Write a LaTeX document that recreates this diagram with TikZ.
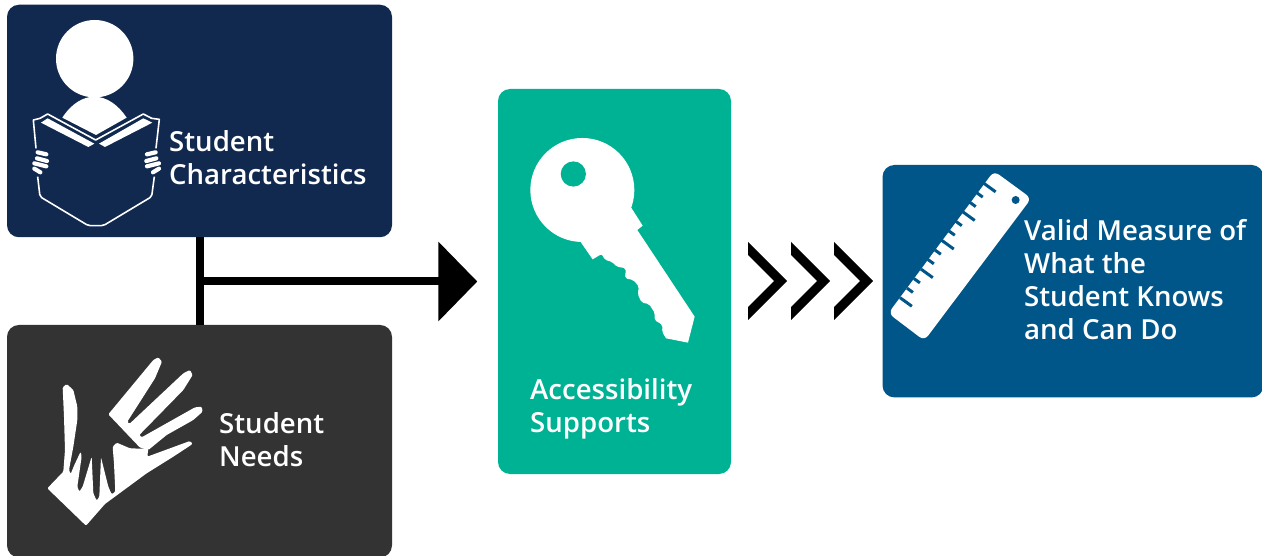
\documentclass[tikz,border=0pt]{standalone}
\usepackage{fontspec}
\setmainfont{Open Sans Semibold}
\usetikzlibrary{arrows.meta}
\definecolor{navybox}{HTML}{12294F}
\definecolor{darkbox}{HTML}{333333}
\definecolor{tealbox}{HTML}{00B294}
\definecolor{bluebox}{HTML}{005589}
\tikzset{
	box/.style={rectangle,rounded corners=12pt,inner sep=0pt},
	lbl/.style={text=white,anchor=west,align=left,inner sep=0pt,font=\fontsize{27.6}{33}\selectfont},
	link/.style={line width=8pt,black},
	icon/.style={fill=white,draw=none}
}
\begin{document}
\begin{tikzpicture}[x=1pt,y=-1pt]
	\useasboundingbox (0,0) rectangle (1262,556);

	\node[box,fill=navybox,minimum width=385pt,minimum height=232.5pt] (stuchar) at (199.5,121) {};
	\node[box,fill=darkbox,minimum width=385pt,minimum height=232.5pt] (stuneeds) at (199.5,441.2) {};
	\node[box,fill=tealbox,minimum width=233pt,minimum height=385pt] (supports) at (614.5,281.5) {};
	\node[box,fill=bluebox,minimum width=381pt,minimum height=232.5pt] (measure) at (1073,281.2) {};
	\coordinate (junction) at (199.5,281.5);

	\draw[link] (stuchar) -- (stuneeds);
	\draw[link,-{Triangle[length=39pt,width=78pt]},shorten >=20.5pt] (junction) -- (supports);

	\node[lbl] (charlbl) at (169,158) {Student\\Characteristics};
	\node[lbl] (needlbl) at (219,440) {Student\\Needs};
	\node[lbl] (suplbl) at (530,409) {Accessibility\\Supports};
	\node[lbl] (measlbl) at (1024,279.3) {Valid Measure of\\What the\\Student Knows\\and Can Do};

	% chevrons
	\foreach \dx in {0,43,86}
		\fill[black,shift={(\dx,0)}] (748,242) -- (787,281) -- (748,320) -- (748,307) -- (774,281) -- (748,255) -- cycle;

	% reader
	\fill[icon] (94.7,58.7) circle (38.7);
	\begin{scope}[shift={(25,95)},x=0.3333pt,y=-0.3333pt]
		\fill[icon] (112,68) .. controls (140,25) and (175,5) .. (208,5) .. controls (245,5) and (280,30) .. (305,68) -- (213,120) -- cycle;
		\draw[white,line width=1.6pt,line join=round] (33,160) -- (25,75) -- (45,70) -- (68,57) -- (212,135) -- (355,57) -- (380,70) -- (403,73) -- (393,160);
		\draw[white,line width=1.6pt,line join=round,rounded corners=2pt] (38,245) -- (45,305) -- (190,392) -- (235,392) -- (380,305) -- (388,245);
		\fill[icon] (48,83) -- (68,70) -- (208,146) -- (190,156) -- cycle;
		\fill[icon] (382,83) -- (355,70) -- (222,146) -- (240,156) -- cycle;
		\foreach \ya/\yb/\xa/\xb in {172/178/38/64,190/198/36/66,205/214/28/64,221/232/28/46} {
			\draw[white,line width=4.2pt,line cap=round] (\xa,\ya) -- (\xb,\yb);
			\draw[white,line width=4.2pt,line cap=round] ({430-\xa},\ya) -- ({430-\xb},\yb);
		}
	\end{scope}

	% hands
	\begin{scope}[shift={(40,350)},x=0.3333pt,y=-0.3333pt]
		\fill[icon,rounded corners=1.2pt] (205,193) -- (340,30) -- (355,22) -- (366,35) -- (345,85) -- (262,215) -- (268,222) -- (430,70) -- (450,60) -- (458,75) -- (430,120) -- (298,255) -- (305,262) -- (465,172) -- (485,170) -- (488,185) -- (460,210) -- (380,255) -- (325,300) -- (300,293) -- cycle;
		\fill[icon,rounded corners=1.2pt] (22,415) -- (70,365) -- (75,300) -- (72,200) -- (68,112) -- (80,102) -- (100,120) -- (112,170) -- (112,210) -- (100,290) -- (87,360) -- (92,372) -- (103,345) -- (122,305) -- (125,320) -- (112,410) -- (118,425) -- (128,410) -- (155,320) -- (160,430) -- (170,452) -- (178,440) -- (183,322) -- (205,410) -- (215,433) -- (226,425) -- (222,340) -- (218,290) -- (230,278) -- (270,295) -- (300,296) -- (325,295) -- (322,320) -- (450,273) -- (458,282) -- (400,320) -- (320,370) -- (195,462) -- (138,527) -- cycle;
	\end{scope}

	% key
	\begin{scope}[shift={(490,120)},x=0.3333pt,y=-0.3333pt]
		\fill[icon] (277,210) circle (52pt);
		\fill[icon] (420,260) -- (425,265) -- (458,317) -- (442,330) -- (614,590) -- (594,668) -- (528,655) [rounded corners=2pt] -- (516,635) -- (518,615) -- (493,600) -- (495,580) -- (477,552) -- (455,548) -- (443,522) -- (447,500) -- (430,480) -- (405,475) -- (408,445) -- (380,440) -- (365,425) -- (345,420) -- (335,402) [sharp corners] -- (308,418) -- (272,366) -- cycle;
		\fill[tealbox] (250,162) circle (12.6pt);
	\end{scope}

	% ruler
	\begin{scope}[shift={(740,160)},x=0.3333pt,y=-0.3333pt]
		\fill[icon,rounded corners=6pt] (762,33) -- (874,115) -- (553,542) -- (445,460) -- cycle;
		\fill[bluebox] (827,120) circle (4pt);
		\foreach \i/\l in {0/44,1/22,2/22,3/44,4/22,5/22,6/44,7/22,8/22,9/44,10/22,11/22,12/44}
			\draw[bluebox,line width=3pt] ({480+20.95*\i},{413-28.6*\i}) -- ++({0.81*\l},{0.587*\l});
	\end{scope}
\end{tikzpicture}
\end{document}
